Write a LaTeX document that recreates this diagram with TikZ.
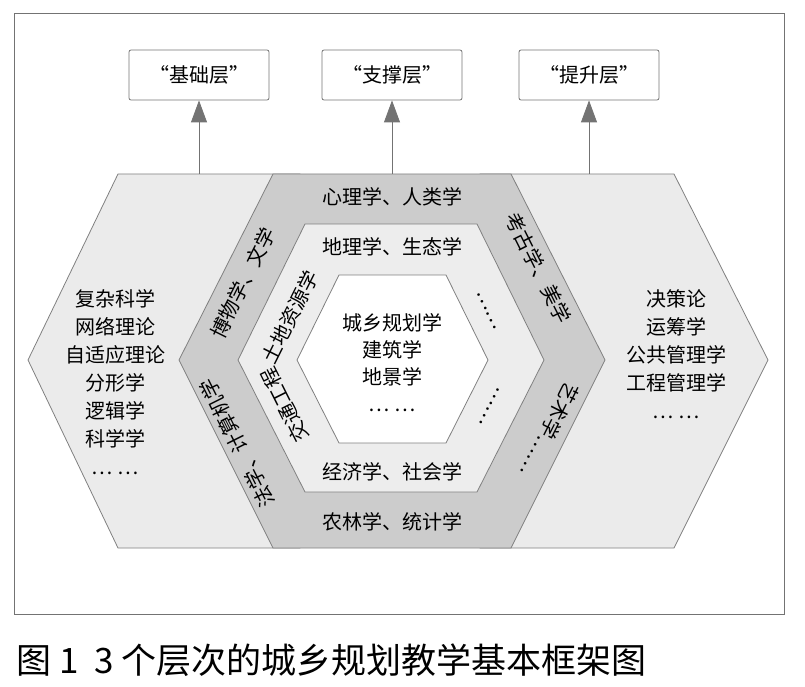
\documentclass[tikz,border=0pt]{standalone}
\usepackage{fontspec}
\setmainfont{Noto Sans CJK SC}
\usetikzlibrary{arrows.meta}
\tikzset{
 hexline/.style={draw=black!50, line width=0.8pt},
 topbox/.style={draw=black!55, line width=0.8pt, rounded corners=2pt, minimum width=140pt, minimum height=50pt, font=\fontsize{20}{24}\selectfont},
 lbl/.style={font=\fontsize{20}{24}\selectfont, inner sep=0pt},
 uparrow/.style={draw=black!55, line width=0.8pt, -{Triangle[length=22pt,width=16pt,fill=black!55]}}
}
\begin{document}
\begin{tikzpicture}[x=1pt,y=-1pt]
\useasboundingbox (0,0) rectangle (805,687);
\draw[draw=black!55, line width=1pt] (14,14) rectangle (784,614);
% side hexagons
\draw[hexline, fill=black!8] (118,174) -- (300,174) -- (300,548) -- (118,548) -- (28,360) -- cycle;
\draw[hexline, fill=black!8] (480,174) -- (674,174) -- (768,360) -- (674,548) -- (480,548) -- cycle;
% rings
\draw[hexline, fill=black!20] (273,174) -- (511,174) -- (605,360) -- (511,548) -- (273,548) -- (179,360) -- cycle;
\draw[hexline, fill=black!7] (305,224) -- (477,224) -- (544,360) -- (477,492) -- (305,492) -- (238,360) -- cycle;
\draw[hexline, fill=white] (339,275) -- (446,275) -- (488,360) -- (446,443) -- (339,443) -- (297,360) -- cycle;
% top boxes
\node[topbox] (b1) at (199,75) {“基础层”};
\node[topbox] (b2) at (392,75) {“支撑层”};
\node[topbox] (b3) at (589,75) {“提升层”};
\coordinate (a1) at (199,174);
\coordinate (a2) at (392,174);
\coordinate (a3) at (589,174);
\draw[uparrow] (a1) -- (b1.south);
\draw[uparrow] (a2) -- (b2.south);
\draw[uparrow] (a3) -- (b3.south);
% side texts
\node[lbl, align=center, font=\fontsize{20}{28}\selectfont] (lt) at (115,382) {复杂科学\\网络理论\\自适应理论\\分形学\\逻辑学\\科学学\\… …};
\node[lbl, align=center, font=\fontsize{20}{28}\selectfont] (rt) at (676,354) {决策论\\运筹学\\公共管理学\\工程管理学\\… …};
% outer ring
\node[lbl] (o1) at (392,197) {心理学、人类学};
\node[lbl] (o2) at (392,522) {农林学、统计学};
\node[lbl, rotate=63.4] (o3) at (243,283) {博物学、文学};
\node[lbl, rotate=116.6] (o4) at (237,443) {法学、计算机学};
\node[lbl, rotate=-63.4] (o5) at (538,268) {考古学、美学};
\node[lbl, rotate=-116.6] (o6) at (550,430) {艺术学……};
% inner ring
\node[lbl] (i1) at (392,247) {地理学、生态学};
\node[lbl] (i2) at (392,472) {经济学、社会学};
\node[lbl, rotate=63.4] (i3) at (290,317) {土地资源学};
\node[lbl, rotate=116.6] (i4) at (285,405) {交通工程};
\node[lbl, rotate=-63.4] (i5) at (487,311) {……};
\node[lbl, rotate=-116.6] (i6) at (490,406) {……};
% center
\node[lbl, align=center, font=\fontsize{20}{27}\selectfont] (c) at (392,363) {城乡规划学\\建筑学\\地景学\\… …};
% caption
\node[anchor=west, font=\fontsize{35}{40}\selectfont, inner sep=0] (cap) at (16,660) {图 1\ \ 3 个层次的城乡规划教学基本框架图};
\end{tikzpicture}
\end{document}
